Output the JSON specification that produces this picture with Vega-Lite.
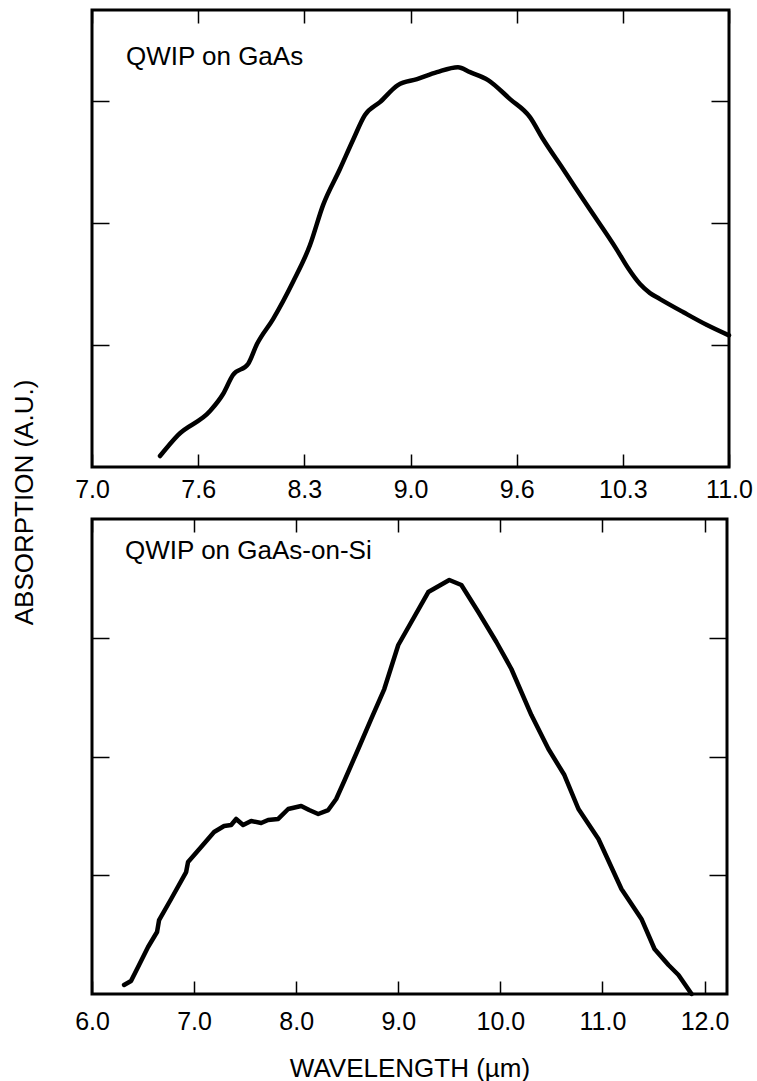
{
  "$schema": "https://vega.github.io/schema/vega-lite/v6.json",
  "background": "white",
  "padding": {"left": 9, "top": 7, "right": 5, "bottom": 0},
  "bounds": "flush",
  "spacing": 52,
  "datasets": {
    "gaas": [
      {"wavelength": 7.427, "absorption": 0.09},
      {"wavelength": 7.54, "absorption": 0.262},
      {"wavelength": 7.741, "absorption": 0.459},
      {"wavelength": 7.823, "absorption": 0.599},
      {"wavelength": 7.885, "absorption": 0.755},
      {"wavelength": 7.98, "absorption": 0.845},
      {"wavelength": 8.036, "absorption": 1.009},
      {"wavelength": 8.137, "absorption": 1.214},
      {"wavelength": 8.262, "absorption": 1.518},
      {"wavelength": 8.369, "absorption": 1.821},
      {"wavelength": 8.451, "absorption": 2.149},
      {"wavelength": 8.557, "absorption": 2.445},
      {"wavelength": 8.639, "absorption": 2.683},
      {"wavelength": 8.714, "absorption": 2.888},
      {"wavelength": 8.808, "absorption": 2.994},
      {"wavelength": 8.921, "absorption": 3.134},
      {"wavelength": 9.041, "absorption": 3.183},
      {"wavelength": 9.166, "absorption": 3.24},
      {"wavelength": 9.298, "absorption": 3.281},
      {"wavelength": 9.374, "absorption": 3.24},
      {"wavelength": 9.487, "absorption": 3.175},
      {"wavelength": 9.625, "absorption": 3.019},
      {"wavelength": 9.75, "absorption": 2.871},
      {"wavelength": 9.832, "absorption": 2.691},
      {"wavelength": 9.958, "absorption": 2.445},
      {"wavelength": 10.108, "absorption": 2.149},
      {"wavelength": 10.297, "absorption": 1.78},
      {"wavelength": 10.366, "absorption": 1.632},
      {"wavelength": 10.441, "absorption": 1.501},
      {"wavelength": 10.504, "absorption": 1.427},
      {"wavelength": 10.567, "absorption": 1.378},
      {"wavelength": 10.711, "absorption": 1.272},
      {"wavelength": 10.862, "absorption": 1.165},
      {"wavelength": 11.0, "absorption": 1.08}
    ],
    "gaasSi": [
      {"wavelength": 6.314, "absorption": 0.076},
      {"wavelength": 6.382, "absorption": 0.109},
      {"wavelength": 6.461, "absorption": 0.244},
      {"wavelength": 6.549, "absorption": 0.396},
      {"wavelength": 6.637, "absorption": 0.522},
      {"wavelength": 6.657, "absorption": 0.623},
      {"wavelength": 6.775, "absorption": 0.8},
      {"wavelength": 6.922, "absorption": 1.027},
      {"wavelength": 6.941, "absorption": 1.112},
      {"wavelength": 7.069, "absorption": 1.238},
      {"wavelength": 7.196, "absorption": 1.364},
      {"wavelength": 7.294, "absorption": 1.415},
      {"wavelength": 7.363, "absorption": 1.423},
      {"wavelength": 7.412, "absorption": 1.474},
      {"wavelength": 7.48, "absorption": 1.423},
      {"wavelength": 7.559, "absorption": 1.457},
      {"wavelength": 7.657, "absorption": 1.44},
      {"wavelength": 7.725, "absorption": 1.465},
      {"wavelength": 7.824, "absorption": 1.474},
      {"wavelength": 7.922, "absorption": 1.558},
      {"wavelength": 8.049, "absorption": 1.583},
      {"wavelength": 8.127, "absorption": 1.549},
      {"wavelength": 8.216, "absorption": 1.516},
      {"wavelength": 8.314, "absorption": 1.549},
      {"wavelength": 8.392, "absorption": 1.642},
      {"wavelength": 8.471, "absorption": 1.794},
      {"wavelength": 8.608, "absorption": 2.063},
      {"wavelength": 8.735, "absorption": 2.316},
      {"wavelength": 8.863, "absorption": 2.568},
      {"wavelength": 9.0, "absorption": 2.939},
      {"wavelength": 9.294, "absorption": 3.385},
      {"wavelength": 9.5, "absorption": 3.486},
      {"wavelength": 9.618, "absorption": 3.444},
      {"wavelength": 9.784, "absorption": 3.217},
      {"wavelength": 9.961, "absorption": 2.964},
      {"wavelength": 10.108, "absorption": 2.737},
      {"wavelength": 10.304, "absorption": 2.349},
      {"wavelength": 10.471, "absorption": 2.063},
      {"wavelength": 10.627, "absorption": 1.844},
      {"wavelength": 10.765, "absorption": 1.558},
      {"wavelength": 10.961, "absorption": 1.305},
      {"wavelength": 11.186, "absorption": 0.884},
      {"wavelength": 11.382, "absorption": 0.632},
      {"wavelength": 11.51, "absorption": 0.379},
      {"wavelength": 11.647, "absorption": 0.244},
      {"wavelength": 11.745, "absorption": 0.16},
      {"wavelength": 11.873, "absorption": 0.0}
    ],
    "label1": [{"x": 7.213, "y": 3.298, "label": "QWIP on GaAs"}],
    "label2": [{"x": 6.324, "y": 3.663, "label": "QWIP on GaAs-on-Si"}]
  },
  "config": {
    "view": {"stroke": "black", "strokeWidth": 3},
    "axis": {
      "domain": false, "grid": false,
      "tickColor": "black", "tickWidth": 1.5,
      "labelColor": "black", "labelFont": "Liberation Sans", "labelFontSize": 25,
      "titleFont": "Liberation Sans", "titleFontSize": 26, "titleFontWeight": "normal", "titleColor": "black",
      "labelFlush": false, "labelOverlap": false
    },
    "text": {"font": "Liberation Sans"}
  },
  "vconcat": [
    {
      "width": 637,
      "height": 457,
      "layer": [
        {
          "data": {"name": "gaas"},
          "mark": {"type": "line", "color": "black", "strokeWidth": 4.5, "strokeJoin": "round", "strokeCap": "round", "interpolate": "monotone"},
          "encoding": {
            "x": {"field": "wavelength", "type": "quantitative", "scale": {"domain": [7, 11], "nice": false, "zero": false},
              "axis": {"orient": "bottom", "values": [7, 7.6667, 8.3333, 9, 9.6667, 10.3333, 11], "labelExpr": "format(floor(datum.value*10+0.0001)/10, '.1f')", "tickSize": -13, "labelPadding": 23, "labelBaseline": "top", "title": null}},
            "y": {"field": "absorption", "type": "quantitative", "scale": {"domain": [0, 3.75], "nice": false, "zero": false},
              "axis": {"orient": "left", "values": [1, 2, 3], "labels": false, "tickSize": -17, "title": "ABSORPTION (A.U.)", "titleX": -60, "titleY": 492, "titleAngle": 270, "titleAlign": "center", "titleBaseline": "alphabetic"}}
          }
        },
        {
          "data": {"name": "gaas"},
          "mark": {"type": "line", "opacity": 0},
          "encoding": {
            "x": {"field": "wavelength", "type": "quantitative", "scale": {"domain": [7, 11], "nice": false, "zero": false},
              "axis": {"orient": "top", "values": [7, 7.6667, 8.3333, 9, 9.6667, 10.3333, 11], "labels": false, "tickSize": -13, "title": null}},
            "y": {"field": "absorption", "type": "quantitative", "scale": {"domain": [0, 3.75], "nice": false, "zero": false},
              "axis": {"orient": "right", "values": [1, 2, 3], "labels": false, "tickSize": -18, "title": null}}
          }
        },
        {
          "data": {"name": "label1"},
          "mark": {"type": "text", "align": "left", "baseline": "alphabetic", "fontSize": 26, "color": "black"},
          "encoding": {
            "x": {"field": "x", "type": "quantitative", "scale": {"domain": [7, 11], "nice": false, "zero": false}, "axis": null},
            "y": {"field": "y", "type": "quantitative", "scale": {"domain": [0, 3.75], "nice": false, "zero": false}, "axis": null},
            "text": {"field": "label"}
          }
        }
      ],
      "resolve": {"axis": {"x": "independent", "y": "independent"}}
    },
    {
      "width": 635,
      "height": 475,
      "layer": [
        {
          "data": {"name": "gaasSi"},
          "mark": {"type": "line", "color": "black", "strokeWidth": 4.5, "strokeJoin": "round", "strokeCap": "round"},
          "encoding": {
            "x": {"field": "wavelength", "type": "quantitative", "scale": {"domain": [6, 12.22], "nice": false, "zero": false},
              "axis": {"orient": "bottom", "values": [6, 7, 8, 9, 10, 11, 12], "format": ".1f", "tickSize": -13, "labelPadding": 28, "labelBaseline": "top", "title": "WAVELENGTH (µm)", "titleY": 82, "titleBaseline": "alphabetic"}},
            "y": {"field": "absorption", "type": "quantitative", "scale": {"domain": [0, 4], "nice": false, "zero": false},
              "axis": {"orient": "left", "values": [1, 2, 3], "labels": false, "tickSize": -17, "title": null}}
          }
        },
        {
          "data": {"name": "gaasSi"},
          "mark": {"type": "line", "opacity": 0},
          "encoding": {
            "x": {"field": "wavelength", "type": "quantitative", "scale": {"domain": [6, 12.22], "nice": false, "zero": false},
              "axis": {"orient": "top", "values": [6, 7, 8, 9, 10, 11, 12], "labels": false, "tickSize": -13, "title": null}},
            "y": {"field": "absorption", "type": "quantitative", "scale": {"domain": [0, 4], "nice": false, "zero": false},
              "axis": {"orient": "right", "values": [1, 2, 3], "labels": false, "tickSize": -18, "title": null}}
          }
        },
        {
          "data": {"name": "label2"},
          "mark": {"type": "text", "align": "left", "baseline": "alphabetic", "fontSize": 26, "color": "black"},
          "encoding": {
            "x": {"field": "x", "type": "quantitative", "scale": {"domain": [6, 12.22], "nice": false, "zero": false}, "axis": null},
            "y": {"field": "y", "type": "quantitative", "scale": {"domain": [0, 4], "nice": false, "zero": false}, "axis": null},
            "text": {"field": "label"}
          }
        }
      ],
      "resolve": {"axis": {"x": "independent", "y": "independent"}}
    }
  ]
}
